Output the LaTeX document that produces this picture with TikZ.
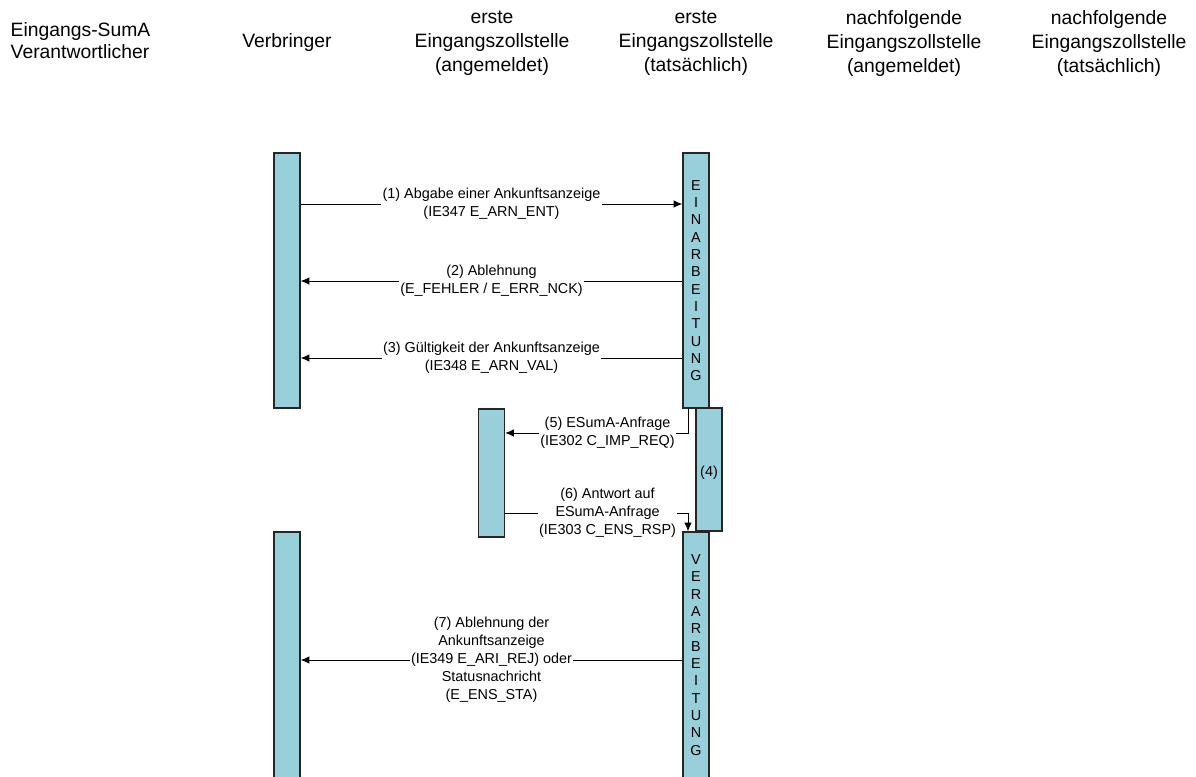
\documentclass[tikz,border=0pt]{standalone}
\usepackage{fontspec}
\setmainfont{Liberation Sans}
\usetikzlibrary{arrows.meta}
\definecolor{barblue}{RGB}{153,207,219}

\begin{document}
\begin{tikzpicture}[x=0.75pt,y=-0.75pt,
  bar/.style={draw=black!85,line width=0.9pt,fill=barblue,minimum width=19.5pt,inner sep=0pt,font=\fontsize{10.8}{13.5}\selectfont},
  head/.style={align=center,font=\fontsize{14.5}{18}\selectfont},
  lbl/.style={fill=white,inner sep=1pt,align=center,font=\fontsize{10.8}{13.5}\selectfont},
  letters/.style={align=center,font=\fontsize{10.8}{13}\selectfont},
  msg/.style={line width=0.75pt,-{Latex[length=6.5pt,width=5.5pt]}}]
\useasboundingbox (0,0) rectangle (1196,776);
% headings
\node[head,align=left,anchor=west,font=\fontsize{14.5}{16.5}\selectfont] (hSumA) at (6,41) {Eingangs-SumA\\Verantwortlicher};
\node[head] (hVerb) at (287,42) {Verbringer};
\node[head] (hAnm1) at (492,43.5) {erste\\Eingangszollstelle\\(angemeldet)};
\node[head] (hTat1) at (696,43.5) {erste\\Eingangszollstelle\\(tatsächlich)};
\node[head] (hAnm2) at (904,43.5) {nachfolgende\\Eingangszollstelle\\(angemeldet)};
\node[head] (hTat2) at (1109,43.5) {nachfolgende\\Eingangszollstelle\\(tatsächlich)};
% activation bars
\node[bar,minimum height=191.25pt] (verb1) at (287,280.5) {};
\node[bar,minimum height=191.25pt] (einarb) at (696,280.5) {};
\node[letters] (tEin) at (einarb) {E\\I\\N\\A\\R\\B\\E\\I\\T\\U\\N\\G};
\node[bar,minimum height=96pt] (anm) at (491.5,473) {};
\node[bar,minimum height=92.25pt] (vier) at (709,469.5) {};
\node[lbl,fill=none] (tVier) at (709,473) {(4)};
\node[bar,minimum height=186pt] (verb2) at (287,656) {};
\node[bar,minimum height=186pt] (verarb) at (696,656) {};
\node[letters] (tVer) at (696,655) {V\\E\\R\\A\\R\\B\\E\\I\\T\\U\\N\\G};
% message levels
\coordinate (y1) at (0,204);
\coordinate (y2) at (0,281);
\coordinate (y3) at (0,358);
\coordinate (y5) at (0,433);
\coordinate (y6) at (0,513);
\coordinate (y7) at (0,660);
% messages
\draw[msg] (verb1.east |- y1) -- node[lbl] (m1) {(1) Abgabe einer Ankunftsanzeige\\(IE347 E\_ARN\_ENT)} (einarb.west |- y1);
\draw[msg] (einarb.west |- y2) -- node[lbl] (m2) {(2) Ablehnung\\(E\_FEHLER / E\_ERR\_NCK)} (verb1.east |- y2);
\draw[msg] (einarb.west |- y3) -- node[lbl] (m3) {(3) Gültigkeit der Ankunftsanzeige\\(IE348 E\_ARN\_VAL)} (verb1.east |- y3);
\draw[msg] ([xshift=-6pt]einarb.south) |- node[lbl,pos=0.72] (m5) {(5) ESumA-Anfrage\\(IE302 C\_IMP\_REQ)} (anm.east |- y5);
\draw[msg] (anm.east |- y6) -| node[lbl,pos=0.28] (m6) {(6) Antwort auf\\ESumA-Anfrage\\(IE303 C\_ENS\_RSP)} ([xshift=-6pt]verarb.north);
\draw[msg] (verarb.west |- y7) -- node[lbl] (m7) {(7) Ablehnung der\\Ankunftsanzeige\\(IE349 E\_ARI\_REJ) oder\\Statusnachricht\\(E\_ENS\_STA)} (verb2.east |- y7);
\end{tikzpicture}
\end{document}
